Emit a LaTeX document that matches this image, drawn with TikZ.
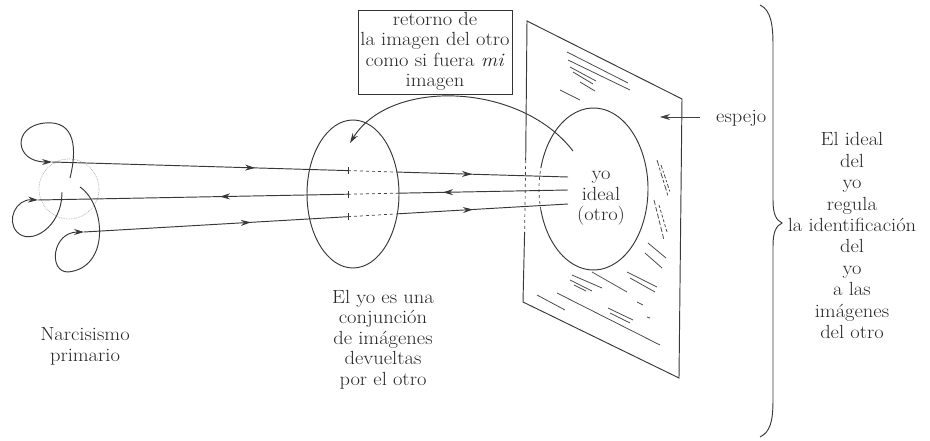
\documentclass[tikz,border=0pt]{standalone}
\usepackage{graphicx}
\usetikzlibrary{arrows.meta,decorations.markings}
\newcommand\mytxt[1]{\scalebox{1.08}[1]{\begin{tabular}{@{}c@{}}#1\end{tabular}}}
\begin{document}
\begin{tikzpicture}[x=1pt,y=-1pt,
  ln/.style={draw=black!78, line width=0.95pt},
  thinln/.style={draw=black!75, line width=0.7pt},
  hatch/.style={draw=black!70, line width=0.8pt},
  tip/.style={-{Stealth[length=10pt,width=6pt]}},
  txt/.style={font=\fontsize{19}{20.5}\selectfont, align=center, text=black!85, inner sep=0pt},
  fwd/.style={postaction={decorate}, decoration={markings, mark=at position #1 with {\arrow{Stealth[length=10pt,width=6pt]}}}},
  bwd/.style={postaction={decorate}, decoration={markings, mark=at position #1 with {\arrowreversed{Stealth[length=10pt,width=6pt]}}}},
  tick/.style={draw=black!80, line width=0.9pt}
]
\useasboundingbox (0,0) rectangle (930,441);

% ---------- coordinates of the three rays ----------
\coordinate (a1) at (52,162);  \coordinate (t1) at (348,170.6); \coordinate (d1) at (398,172.1); \coordinate (e1) at (568,177);
\coordinate (a2) at (38,200);  \coordinate (t2) at (348,194.2); \coordinate (d2) at (398,193.2); \coordinate (e2) at (568,190);
\coordinate (a3) at (84,232);  \coordinate (t3) at (348,216.7); \coordinate (d3) at (398,213.8); \coordinate (e3) at (568,204);

% ---------- primary narcissism loops ----------
\draw[gray!70, line width=0.7pt, densely dotted] (69,189) circle[radius=30];
\coordinate (l1s) at (70,178);
\coordinate (l2s) at (62,192);
\coordinate (l3s) at (80,187);
\draw[ln,tip] (l1s) .. controls (77,150) and (76,120) .. (45,123) .. controls (12,126) and (14,162) .. (a1);
\draw[ln,tip] (l2s) .. controls (62,228) and (30,246) .. (17,232) .. controls (6,220) and (16,199) .. (a2);
\draw[ln,tip] (l3s) .. controls (106,205) and (110,268) .. (68,272) .. controls (48,272) and (52,232) .. (a3);

% ---------- rays ----------
\draw[ln,fwd=0.686] (a1) -- (t1);
\draw[ln,bwd=0.587] (a2) -- (t2);
\draw[ln,fwd=0.632] (a3) -- (t3);
\draw[thinln,dashed] (t1) -- (d1);
\draw[thinln,dashed] (t2) -- (d2);
\draw[thinln,dashed] (t3) -- (d3);
\draw[ln,fwd=0.435] (d1) -- (e1);
\draw[ln,bwd=0.265] (d2) -- (e2);
\draw[ln,fwd=0.441] (d3) -- (e3);
\foreach \t in {t1,t2,t3} \draw[tick] ([yshift=-3.5pt]\t) -- ([yshift=3.5pt]\t);

% ---------- ego ellipse ----------
\coordinate (ego) at (353,194);
\draw[ln] (ego) ellipse[x radius=46, y radius=74];

% ---------- mirror ----------
\coordinate (m1) at (527,21);
\coordinate (m2) at (682,99);
\coordinate (m3) at (679,378);
\coordinate (m4) at (523,302);
\coordinate (m5) at (525.7,160);
\coordinate (m6) at (524.6,232);
\draw[ln] (m5) -- (m1) -- (m2) -- (m3) -- (m4) -- (m6);
\draw[thinln,dashed] (m5) -- (m6);

\coordinate (mc) at (593.5,189);
\draw[ln] (mc) ++(195:54.5 and 81) arc[start angle=195, end angle=525, x radius=54.5, y radius=81];
\draw[thinln,dashed] (mc) ++(165:54.5 and 81) arc[start angle=165, end angle=195, x radius=54.5, y radius=81];

% hatching
\draw[hatch] (567,52) -- (628,83);
\draw[hatch] (568,60) -- (630,90);
\draw[hatch] (570,67) -- (596,81);
\draw[hatch] (573,72) -- (593,84);
\draw[hatch] (580,82) -- (595,91);
\draw[hatch] (560,90) -- (580,100);
\draw[hatch,dash pattern=on 6pt off 2pt on 3pt off 2pt] (657,160) -- (668,196);
\draw[hatch,dash pattern=on 4pt off 2pt on 2pt off 2pt] (661,165) -- (670,192);
\draw[hatch,dash pattern=on 5pt off 2pt] (654,200) -- (664,240);
\draw[hatch,dash pattern=on 3pt off 2pt] (659,205) -- (667,232);
\draw[hatch] (648,243) -- (666,258);
\draw[hatch] (645,253) -- (662,268);
\draw[hatch] (572,275) -- (602,288);
\draw[hatch] (570,280) -- (592,291);
\draw[hatch] (574,285) -- (586,291);
\draw[hatch] (592,272) -- (627,292);
\draw[hatch] (627,272) -- (657,287);
\draw[hatch] (630,278) -- (655,292);
\draw[hatch] (537,295) -- (565,310);
\draw[hatch] (557,293) -- (660,345);
\draw[hatch] (608,308) -- (633,320);
\draw[hatch] (610,313) -- (630,323);
\draw[hatch] (637,302) -- (643,305);
\draw[hatch] (647,317) -- (650,318);

% ---------- return arrow ----------
\coordinate (rs) at (573,151);
\coordinate (re) at (350,143);
\draw[ln,tip] (rs) .. controls (520,82) and (390,78) .. (re);

% ---------- texts ----------
\node[draw=black!80, line width=0.9pt, minimum width=154pt, minimum height=84pt, inner sep=0pt] (box) at (435,52) {};
\node[txt] (boxtxt) at (box.center) {\mytxt{retorno de\\la imagen del otro\\como si fuera \textit{mi}\\imagen}};
\node[txt] (ideal) at (601,196) {\mytxt{yo\\ideal\\(otro)}};
\node[txt] (narc) at (85,347) {\mytxt{Narcisismo\\primario}};
\node[txt] (yo) at (383,340) {\mytxt{El yo es una\\conjunción\\de imágenes\\devueltas\\por el otro}};
\node[txt, anchor=west] (esp) at (716,118) {\mytxt{espejo}};
\coordinate (ea) at (700,117);
\coordinate (eb) at (660,117);
\draw[thinln,tip] (ea) -- (eb);

% ---------- brace ----------
\coordinate (b1) at (760,5);
\coordinate (b2) at (782,223);
\coordinate (b3) at (760,437);
\draw[ln] (b1) .. controls (771,10) and (773,25) .. (773,45) -- (773,200)
  .. controls (773,214) and (776,220) .. (b2)
  .. controls (776,226) and (773,232) .. (773,246) -- (773,400)
  .. controls (773,422) and (770,432) .. (b3);
\node[txt, font=\fontsize{19}{21.4}\selectfont] (ideal2) at (852,238)
  {\mytxt{El ideal\\del\\yo\\regula\\la identificación\\del\\yo\\a las\\imágenes\\del otro}};
\end{tikzpicture}
\end{document}
